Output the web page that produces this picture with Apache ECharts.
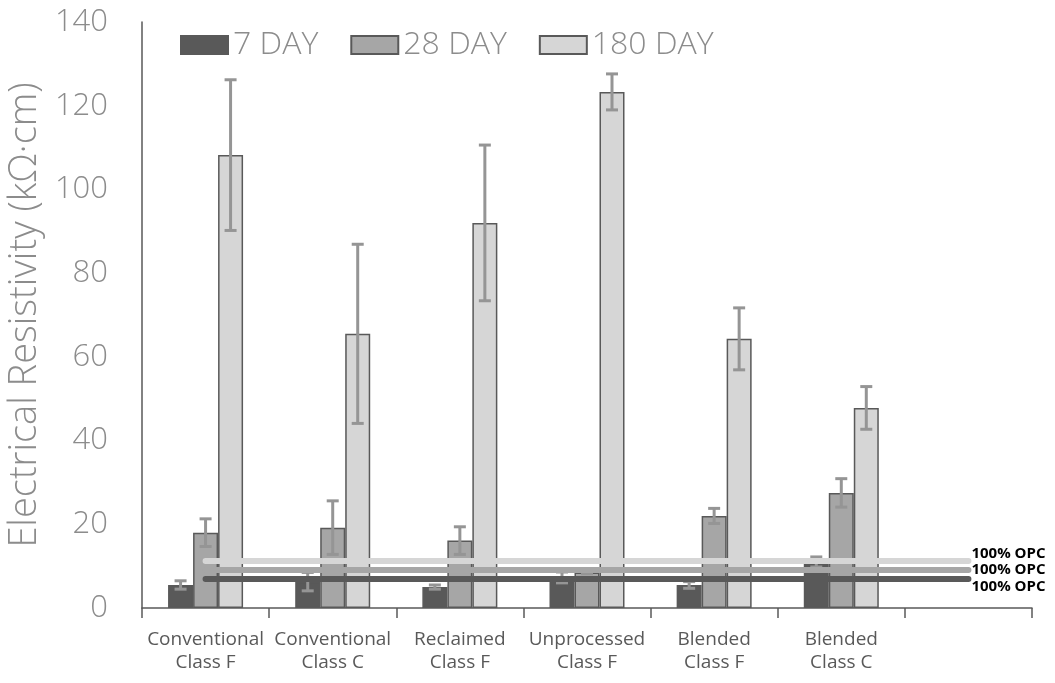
<!DOCTYPE html>
<html>
<head>
<meta charset="utf-8">
<script src="https://cdn.jsdelivr.net/npm/echarts@6/dist/echarts.min.js"></script>
<style>html,body{margin:0;padding:0;background:#fff;}#c{width:1055px;height:683px;}</style>
</head>
<body>
<div id="c"></div>
<script>
const categories = ['Conventional\nClass F','Conventional\nClass C','Reclaimed\nClass F','Unprocessed\nClass F','Blended\nClass F','Blended\nClass C',''];
const seriesNames = ['7 DAY','28 DAY','180 DAY'];
const day7 = [5.5, 6.3, 5.0, 7.3, 5.5, 11.0, null];
const day7Err = [1.0, 2.2, 0.5, 1.3, 0.8, 1.2, null];
const day28 = [18.0, 19.2, 16.1, 8.5, 22.0, 27.5, null];
const day28Err = [3.3, 6.4, 3.3, 0.3, 1.8, 3.4, null];
const day180 = [108.2, 65.5, 92.0, 123.3, 64.3, 47.8, null];
const day180Err = [18.0, 21.4, 18.6, 4.3, 7.4, 5.1, null];
const opcValues = [6.9, 9.2, 11.2];
const opcLabel = '100% OPC';
const yTicks = {min: 0, max: 140, interval: 20};

const colors = ['#595959', '#a6a6a6', '#d6d6d6'];
const FONT = 'Open Sans';
const BAR_W = 25;

function barSeries(name, data, idx) {
  return {
    name: name, type: 'bar', data: data, barWidth: BAR_W, barGap: '0%', z: 2,
    itemStyle: {color: colors[idx], borderColor: '#595959', borderWidth: 1.5},
    emphasis: {disabled: true}
  };
}
function errSeries(name, vals, errs, idx) {
  const d = [];
  vals.forEach((v, i) => { if (v != null) d.push([i, v - errs[i], v + errs[i]]); });
  return {
    name: name + ' err', type: 'custom', data: d, z: 3, silent: true,
    encode: {x: 0, y: [1, 2]},
    renderItem: function (params, api) {
      const x = api.value(0);
      const lo = api.coord([x, api.value(1)]);
      const hi = api.coord([x, api.value(2)]);
      const cx = lo[0] + (idx - 1) * BAR_W;
      const hw = 6;
      const st = {stroke: '#959595', lineWidth: 3};
      return {type: 'group', children: [
        {type: 'line', shape: {x1: cx, y1: hi[1], x2: cx, y2: lo[1]}, style: st},
        {type: 'line', shape: {x1: cx - hw, y1: hi[1], x2: cx + hw, y2: hi[1]}, style: st},
        {type: 'line', shape: {x1: cx - hw, y1: lo[1], x2: cx + hw, y2: lo[1]}, style: st}
      ]};
    }
  };
}

const labelAligns = ['top', 'middle', 'bottom'];
const markData = opcValues.map((v, i) => [
  {xAxis: 0, yAxis: v, lineStyle: {color: colors[i]}, label: {verticalAlign: labelAligns[i]}},
  {xAxis: categories.length - 1, yAxis: v}
]);

const option = {
  animation: false,
  textStyle: {fontFamily: FONT},
  grid: {left: 142, right: 23, top: 22, bottom: 75, containLabel: false, outerBoundsMode: 'none'},
  legend: {
    data: seriesNames, left: 175, top: 24, itemWidth: 47, itemHeight: 18, itemGap: 32, icon: 'rect',
    textStyle: {fontSize: 32, color: '#8c8c8c', fontFamily: FONT, fontWeight: 300}
  },
  xAxis: {
    type: 'category', data: categories, boundaryGap: true,
    axisLine: {lineStyle: {color: '#595959', width: 1.5}},
    axisTick: {show: true, length: 10, interval: 0, lineStyle: {color: '#595959', width: 1.5}},
    axisLabel: {interval: 0, fontSize: 19, color: '#595959', lineHeight: 23, margin: 20, fontFamily: FONT, hideOverlap: false}
  },
  yAxis: {
    type: 'value', min: yTicks.min, max: yTicks.max, interval: yTicks.interval,
    name: 'Electrical Resistivity (kΩ·cm)', nameLocation: 'middle', nameGap: 93,
    nameTextStyle: {fontSize: 38, color: '#8c8c8c', fontFamily: FONT, fontWeight: 300},
    axisLine: {show: true, lineStyle: {color: '#595959', width: 1.5}},
    axisTick: {show: false},
    splitLine: {show: false},
    axisLabel: {fontSize: 31, color: '#8c8c8c', margin: 34, fontFamily: FONT, fontWeight: 300}
  },
  series: [
    barSeries(seriesNames[0], day7, 0),
    barSeries(seriesNames[1], day28, 1),
    barSeries(seriesNames[2], day180, 2),
    errSeries(seriesNames[0], day7, day7Err, 0),
    errSeries(seriesNames[1], day28, day28Err, 1),
    errSeries(seriesNames[2], day180, day180Err, 2),
    {
      name: 'OPC', type: 'line', data: [], z: 5, silent: true,
      markLine: {
        silent: true, symbol: ['none', 'none'], animation: false,
        lineStyle: {width: 6, type: 'solid', cap: 'round'},
        label: {show: true, position: 'end', distance: 3, formatter: opcLabel, fontSize: 15, fontWeight: 'bold', color: '#000', fontFamily: FONT},
        emphasis: {disabled: true},
        data: markData
      }
    }
  ]
};
const chart = echarts.init(document.getElementById('c'), null, {renderer: 'canvas'});
chart.setOption(option);
</script>
</body>
</html>
